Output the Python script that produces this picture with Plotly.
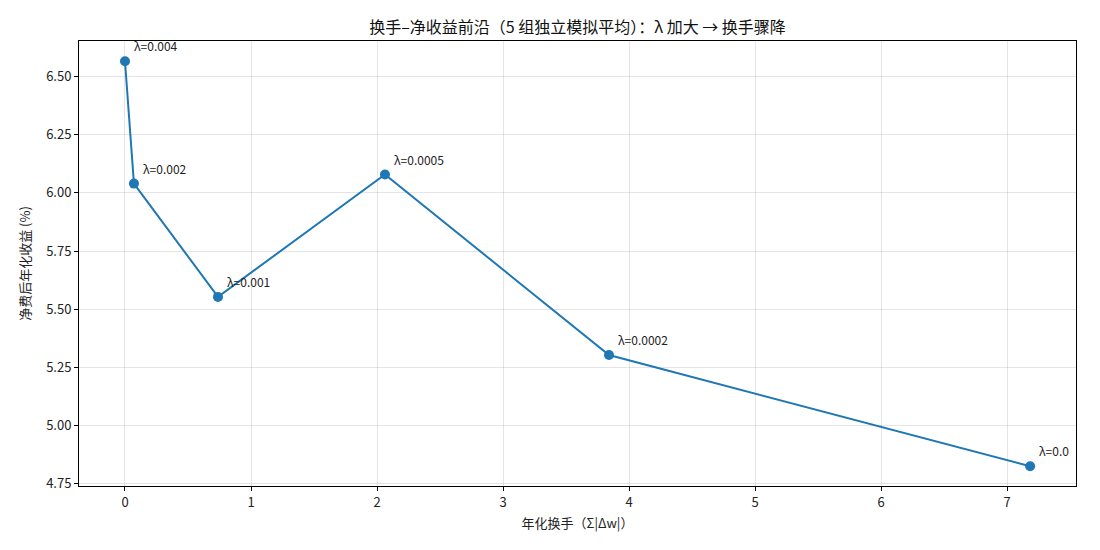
import plotly.graph_objects as go

turnover = [0.0, 0.071, 0.738, 2.063, 3.841, 7.183]
net_return = [6.566, 6.040, 5.553, 6.079, 5.303, 4.825]
lam_labels = ["λ=0.004", "λ=0.002", "λ=0.001", "λ=0.0005", "λ=0.0002", "λ=0.0"]

FONT = "Noto Sans CJK SC, Noto Sans, sans-serif"

fig = go.Figure()
fig.add_trace(go.Scatter(
    x=turnover, y=net_return, mode="lines+markers",
    line=dict(color="#1f77b4", width=2),
    marker=dict(color="#1f77b4", size=10),
    showlegend=False, cliponaxis=False,
))
for xv, yv, t in zip(turnover, net_return, lam_labels):
    fig.add_annotation(x=xv, y=yv, text=t, showarrow=False,
                       xanchor="left", yanchor="bottom", xshift=7, yshift=5,
                       font=dict(family=FONT, size=12, color="#222"))

axis_common = dict(showline=True, linecolor="black", linewidth=1, mirror=True,
                   showgrid=True, gridcolor="rgba(0,0,0,0.1)", gridwidth=1,
                   ticks="outside", ticklen=4, tickcolor="black",
                   tickfont=dict(family=FONT, size=13, color="#222"), zeroline=False)

fig.update_layout(
    width=1100, height=550,
    margin=dict(l=79, r=24, t=41, b=64),
    plot_bgcolor="white", paper_bgcolor="white",
    title=dict(text="换手–净收益前沿（5 组独立模拟平均）：λ 加大 → 换手骤降",
               x=0.5, xref="paper", y=1, yref="paper", yanchor="bottom",
               pad=dict(b=8),
               font=dict(family=FONT, size=16, color="#111")),
    xaxis=dict(range=[-0.365, 7.547], tickvals=[0, 1, 2, 3, 4, 5, 6, 7],
               title=dict(text="年化换手（Σ|Δw|）", font=dict(family=FONT, size=13, color="#222"), standoff=9),
               **axis_common),
    yaxis=dict(range=[4.740, 6.653], tickvals=[4.75, 5.0, 5.25, 5.5, 5.75, 6.0, 6.25, 6.5],
               tickformat=".2f",
               title=dict(text="净费后年化收益 (%)", font=dict(family=FONT, size=13, color="#222"), standoff=12),
               **axis_common),
)

fig.write_html("out.html")
